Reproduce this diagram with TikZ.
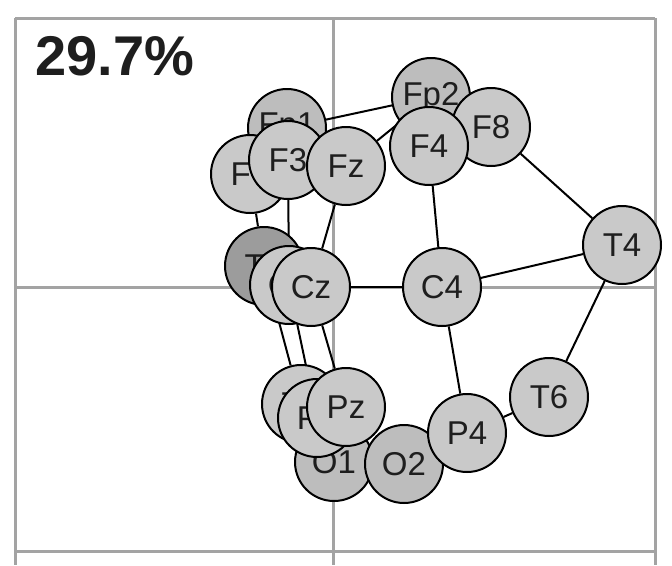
\documentclass[tikz,border=0pt]{standalone}
\usepackage{fontspec}
\setmainfont{Liberation Sans}
\definecolor{nodegray}{HTML}{C9C9C9}
\definecolor{nodedark}{HTML}{BDBDBD}
\definecolor{tgray}{HTML}{9C9C9C}
\definecolor{axisgray}{HTML}{A3A3A3}
\definecolor{textdark}{HTML}{1E1E1E}
\pgfdeclarelayer{bg}
\pgfsetlayers{bg,main}
\begin{document}
\begin{tikzpicture}[x=1pt,y=-1pt,
  elec/.style={circle, draw=black, line width=2pt, fill=nodegray,
    minimum size=78pt, inner sep=0pt, text=textdark,
    font=\fontsize{33}{33}\selectfont},
  link/.style={draw=black, line width=2pt},
  axisline/.style={draw=axisgray, line width=3pt}]
\useasboundingbox (0,0) rectangle (672,565);

% electrodes, back to front
\node[elec, fill=nodedark] (Fp2) at (431,97) {Fp2};
\node[elec] (F8) at (491,127) {F8};
\node[elec] (F4) at (429,146) {F4};
\node[elec, fill=nodedark] (Fp1) at (287,128) {Fp1};
\node[elec] (F7) at (250,174) {F7};
\node[elec] (F3) at (288,160) {F3};
\node[elec] (Fz) at (346,166) {Fz};
\node[elec, fill=tgray] (T3) at (264,266) {T3};
\node[elec] (C3) at (289,285) {C3};
\node[elec] (Cz) at (311,287) {Cz};
\node[elec] (C4) at (442,287) {C4};
\node[elec] (T4) at (622,245) {T4};
\node[elec, fill=nodedark] (O1) at (334,462) {O1};
\node[elec] (T5) at (301,404) {T5};
\node[elec] (P3) at (317,418) {P3};
\node[elec, fill=nodedark] (O2) at (404,464) {O2};
\node[elec] (Pz) at (346,407) {Pz};
\node[elec] (P4) at (467,433) {P4};
\node[elec] (T6) at (549,397) {T6};

% percentage label
\node[anchor=base west, inner sep=0pt, text=textdark,
  font=\fontsize{56}{56}\selectfont\bfseries] (pct) at (35,75) {29.7\%};

\begin{pgfonlayer}{bg}
  \fill[white] (0,0) rectangle (672,565);
  % frame and axes
  \draw[axisline] (15,18) -- (655,18);
  \draw[axisline] (15,551) -- (655,551);
  \draw[axisline] (15,287) -- (655,287);
  \draw[axisline] (15,18) -- (15,565);
  \draw[axisline] (333,18) -- (333,565);
  \draw[axisline] (655,18) -- (655,565);
  % connections
  \draw[link] (Fp1) -- (Fp2);
  \draw[link] (Fz) -- (Fp2);
  \draw[link] (F8) -- (T4);
  \draw[link] (F4) -- (C4);
  \draw[link] (Fz) -- (Cz);
  \draw[link] (F3) -- (C3);
  \draw[link] (F7) -- (T3);
  \draw[link] (Cz) -- (C4);
  \draw[link] (C4) -- (T4);
  \draw[link] (C4) -- (P4);
  \draw[link] (T4) -- (T6);
  \draw[link] (T6) -- (P4);
  \draw[link] (T3) -- (T5);
  \draw[link] (C3) -- (P3);
  \draw[link] (Cz) -- (Pz);
\end{pgfonlayer}
\end{tikzpicture}
\end{document}
